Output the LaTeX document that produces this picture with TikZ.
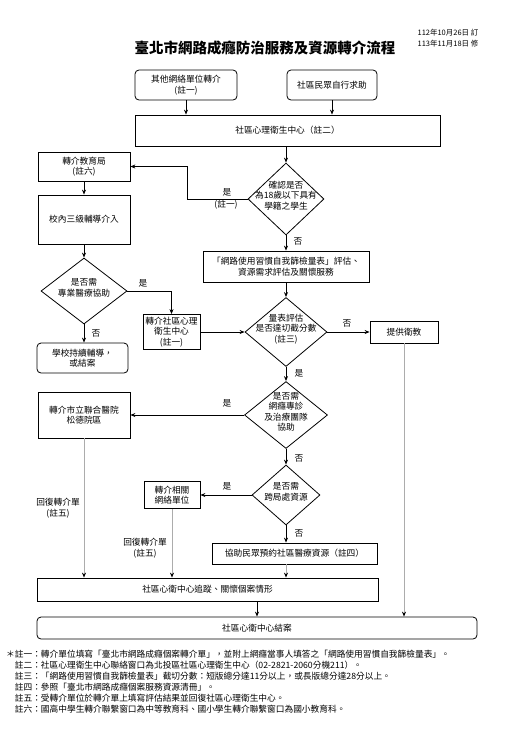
\documentclass[tikz,border=0pt]{standalone}
\usepackage{fontspec}
\setmainfont{Noto Sans CJK TC}
\usetikzlibrary{shapes.geometric,arrows.meta}
\newcommand\dtxt[1]{\makebox[0pt]{\smash{\begin{tabular}{@{}c@{}}#1\end{tabular}}}}
\tikzset{
    every node/.style={font=\fontsize{8.7}{10.5}\selectfont, inner sep=1pt},
    box/.style={draw, line width=0.8pt, align=center},
    rbox/.style={box, rounded corners=4pt},
    dia/.style={draw, diamond, line width=0.8pt, inner sep=0pt}
}
\tikzset{
    arr/.style={line width=0.8pt, -{Stealth[length=5pt,width=4pt]}},
    gl/.style={draw=gray!65, line width=0.9pt, -{Stealth[length=5pt,width=4pt,black]}}
}

\begin{document}
\begin{tikzpicture}[x=1pt, y=-1pt]
	\fill[white] (0,0) rectangle (521,740);
	\node [font=\fontsize{14.5}{16}\selectfont\bfseries] (title) at (265,48) {臺北市網路成癮防治服務及資源轉介流程};
	\node [font=\fontsize{7.5}{11}\selectfont, align=left] (date) at (448,38) {112年10月26日 訂\\113年11月18日 修};
	\node [rbox, minimum width=102pt, minimum height=30pt] (other) at (186,85) {其他網絡單位轉介\\(註一)};
	\node [rbox, minimum width=90pt, minimum height=30pt] (self) at (332,85) {社區民眾自行求助};
	\node [box, minimum width=305pt, minimum height=31pt] (mhc) at (287.5,130.5) {社區心理衛生中心（註二）};
	\node [dia, minimum width=76pt, minimum height=72pt] (chk) at (286,199) {\dtxt{確認是否\\為18歲以下具有\\學籍之學生}};
	\node [box, minimum width=92pt, minimum height=29pt] (edu) at (84,166.5) {轉介教育局\\(註六)};
	\node [box, minimum width=92pt, minimum height=49pt] (school) at (84,219.5) {校內三級輔導介入};
	\node [dia, minimum width=86pt, minimum height=66pt] (med) at (84,291) {\dtxt{是否需\\專業醫療協助}};
	\node [rbox, minimum width=91pt, minimum height=30pt] (keep) at (82.5,358) {學校持續輔導，\\或結案};
	\node [box, minimum width=57pt, minimum height=35pt] (refc) at (171.5,332) {轉介社區心理\\衛生中心\\(註一)};
	\node [box, minimum width=166pt, minimum height=31pt] (scale) at (286,266.5) {「網路使用習慣自我篩檢量表」評估、\\資源需求評估及關懷服務};
	\node [dia, minimum width=82pt, minimum height=69pt] (cut) at (286,332) {\dtxt{量表評估\\是否達切截分數\\(註三)}};
	\node [box, minimum width=68pt, minimum height=22pt] (tips) at (404,332) {提供衛教};
	\node [dia, minimum width=83pt, minimum height=67pt] (clinic) at (286,415) {\dtxt{是否需\\網癮專診\\及治療團隊\\協助}};
	\node [box, minimum width=92pt, minimum height=46pt] (sd) at (84,415) {轉介市立聯合醫院\\松德院區};
	\node [dia, minimum width=68pt, minimum height=60pt] (cross) at (286,495) {\dtxt{是否需\\跨局處資源}};
	\node [box, minimum width=56pt, minimum height=27pt] (net) at (172,495) {轉介相關\\網絡單位};
	\node [box, minimum width=165pt, minimum height=21pt] (book) at (294.5,553.5) {協助民眾預約社區醫療資源（註四）};
	\node [box, minimum width=341pt, minimum height=23pt] (track) at (207.5,589.5) {社區心衛中心追蹤、關懷個案情形};
	\node [rbox, minimum width=440pt, minimum height=22pt] (close) at (257,628) {社區心衛中心結案};
	\node (yes1) at (227,192) {是};
	\node (yes1n) at (226,205) {(註一)};
	\node (no1) at (298,241) {否};
	\node (yes2) at (143,283) {是};
	\node (no2) at (96,333) {否};
	\node (no3) at (347,323) {否};
	\node (yes3) at (299,373) {是};
	\node (yes4) at (227,403) {是};
	\node (no4) at (299,458) {否};
	\node (yes5) at (227,486) {是};
	\node (no5) at (299,533) {否};
	\node [align=center] (back1) at (58,508) {回復轉介單\\(註五)};
	\node [align=center] (back2) at (145,548) {回復轉介單\\(註五)};
	\draw[arr] (other) -- (other |- mhc.north);
	\draw[arr] (self) -- (self |- mhc.north);
	\draw[arr] (mhc.south -| chk) -- (chk.north);
	\draw[arr] (chk.west) -- ++(-60,0) |- (edu.east);
	\draw[arr] (chk) -- (scale);
	\draw[arr] (edu) -- (school);
	\draw[arr] (school) -- (med);
	\draw[arr] (med.east) -| (refc.north);
	\draw[arr] (med.south) -- (med.south |- keep.north);
	\draw[arr] (refc) -- (cut);
	\draw[arr] (scale) -- (cut);
	\draw[arr] (cut) -- (tips);
	\draw[arr] (cut) -- (clinic);
	\draw[arr] (clinic) -- (sd);
	\draw[arr] (clinic) -- (cross);
	\draw[arr] (cross) -- (net);
	\draw[arr] (cross.south) -- (cross.south |- book.north);
	\draw[gl] (book.south -| cross) -- (cross |- track.north);
	\draw[gl] (sd) -- (sd |- track.north);
	\draw[gl] (net) -- (net |- track.north);
	\draw[gl] (tips) -- (tips |- close.north);
	\draw[arr] (track.south -| close) -- (close.north);
	\node [anchor=north west, align=left, font=\fontsize{8.7}{11}\selectfont] (notes) at (5,649) {＊註一：轉介單位填寫「臺北市網路成癮個案轉介單」，並附上網癮當事人填答之「網路使用習慣自我篩檢量表」。\\
	\hspace*{1em}註二：社區心理衛生中心聯絡窗口為北投區社區心理衛生中心（02-2821-2060分機211）。\\
	\hspace*{1em}註三：「網路使用習慣自我篩檢量表」截切分數：短版總分達11分以上，或長版總分達28分以上。\\
	\hspace*{1em}註四：參照「臺北市網路成癮個案服務資源清冊」。\\
	\hspace*{1em}註五：受轉介單位於轉介單上填寫評估結果並回復社區心理衛生中心。\\
	\hspace*{1em}註六：國高中學生轉介聯繫窗口為中等教育科、國小學生轉介聯繫窗口為國小教育科。};
\end{tikzpicture}
\end{document}
